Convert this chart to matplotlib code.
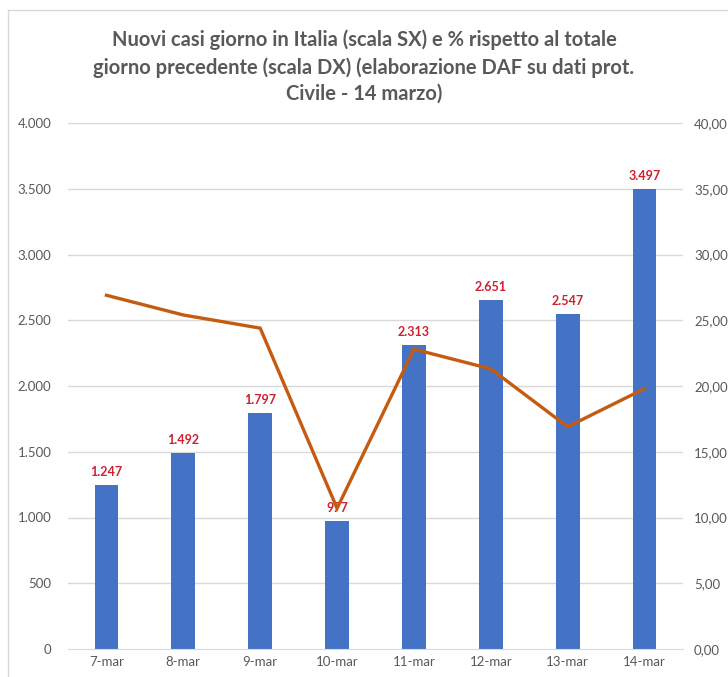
import matplotlib
matplotlib.use("Agg")
import matplotlib.pyplot as plt
from matplotlib.patches import Rectangle

categories = ["7-mar", "8-mar", "9-mar", "10-mar", "11-mar", "12-mar", "13-mar", "14-mar"]
new_cases = [1247, 1492, 1797, 977, 2313, 2651, 2547, 3497]
pct_prev_total = [26.9, 25.4, 24.4, 10.7, 22.8, 21.3, 16.9, 19.8]
left_ticks = [0, 500, 1000, 1500, 2000, 2500, 3000, 3500, 4000]
right_ticks = [0, 5, 10, 15, 20, 25, 30, 35, 40]

plt.rcParams['font.family'] = ['Lato', 'DejaVu Sans']

W, H = 728, 677
fig = plt.figure(figsize=(W/100, H/100), dpi=100)

# chart area border (cropped screenshot)
fig.patches.append(Rectangle((8/W, -0.1), 1.2, 1 - 10/H + 0.1, transform=fig.transFigure,
                             fill=False, edgecolor='#D9D9D9', linewidth=1.0))

ax = fig.add_axes([68/W, 1 - 649/H, (683-68)/W, (649-123)/H])
x = list(range(len(categories)))

for t in left_ticks[1:]:
    ax.axhline(t, color='#D9D9D9', linewidth=1.0, zorder=0)

ax.bar(x, new_cases, width=0.31, color='#4472C4', zorder=2)
ax.set_xlim(-0.5, len(categories) - 0.5)
ax.set_ylim(0, 4000)
ax.set_yticks(left_ticks)
ax.set_yticklabels([f"{v:,}".replace(",", ".") for v in left_ticks])
ax.set_xticks(x)
ax.set_xticklabels(categories)
for s in ['top', 'right', 'left']:
    ax.spines[s].set_visible(False)
ax.spines['bottom'].set_color('#D9D9D9')
ax.tick_params(axis='both', colors='#595959', labelsize=9.5, length=0)
ax.tick_params(axis='y', pad=12)
ax.tick_params(axis='x', pad=5)

for xi, v in zip(x, new_cases):
    ax.annotate(f"{v:,}".replace(",", "."), (xi, v), xytext=(0, 5), textcoords='offset points',
                ha='center', va='bottom', color='#D0202F', fontsize=9, fontweight='bold', zorder=5)

ax2 = ax.twinx()
ax2.plot(x, pct_prev_total, color='#C55A11', linewidth=2.4, zorder=3, solid_joinstyle='miter')
ax2.set_ylim(0, 40)
ax2.set_yticks(right_ticks)
ax2.set_yticklabels([f"{v:.2f}".replace(".", ",") for v in right_ticks])
for s in ['top', 'right', 'left', 'bottom']:
    ax2.spines[s].set_visible(False)
ax2.tick_params(axis='y', colors='#595959', labelsize=9.5, length=0, pad=8)

fig.text(0.5, 1 - 67/H, "Nuovi casi giorno in Italia (scala SX) e % rispetto al totale\n"
         "giorno precedente (scala DX) (elaborazione DAF su dati prot.\n"
         "Civile - 14 marzo)", ha='center', va='center', fontsize=14.5,
         fontweight='bold', color='#595959', linespacing=1.4)

fig.savefig("out.png", dpi=100)
